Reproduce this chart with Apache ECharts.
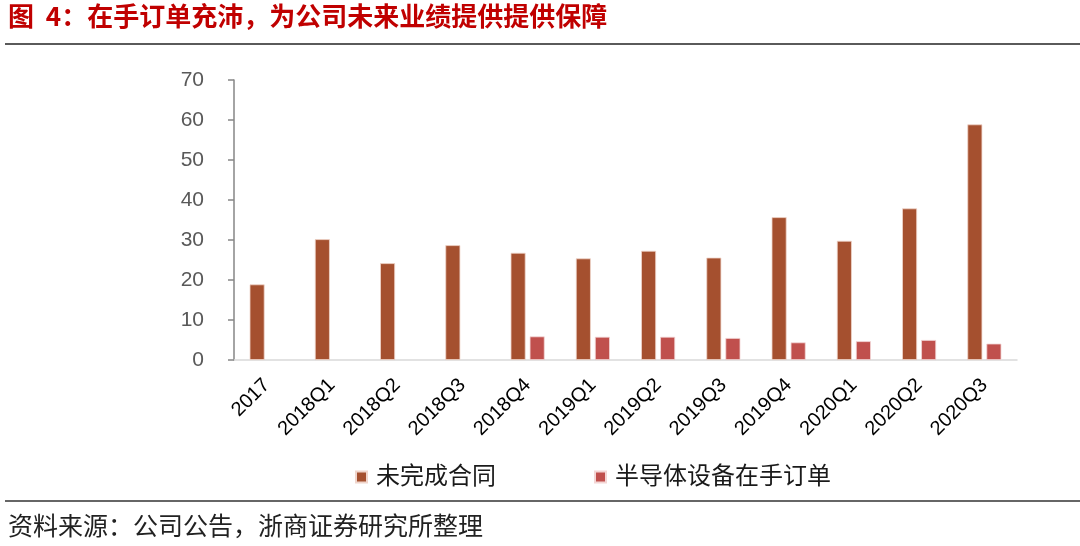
<!DOCTYPE html>
<html>
<head>
<meta charset="utf-8">
<script src="https://cdn.jsdelivr.net/npm/echarts@6/dist/echarts.min.js"></script>
<style>
html,body{margin:0;padding:0;background:#fff;}
#main{width:1080px;height:546px;}
</style>
</head>
<body>
<div id="main"></div>
<script>
var categories = ['2017','2018Q1','2018Q2','2018Q3','2018Q4','2019Q1','2019Q2','2019Q3','2019Q4','2020Q1','2020Q2','2020Q3'];
var contractValues = [18.9, 30.2, 24.2, 28.7, 26.8, 25.4, 27.3, 25.6, 35.7, 29.8, 37.9, 58.9];
var semiOrderValues = [null, null, null, null, 5.9, 5.8, 5.8, 5.5, 4.4, 4.7, 5.0, 4.1];
var seriesNames = ['未完成合同', '半导体设备在手订单'];
var yTicks = [0, 10, 20, 30, 40, 50, 60, 70];
var titleText = '图  4：在手订单充沛，为公司未来业绩提供提供保障';
var sourceText = '资料来源：公司公告，浙商证券研究所整理';

var chart = echarts.init(document.getElementById('main'), null, {renderer: 'canvas'});
var cjk = '"Liberation Sans", "Noto Sans CJK SC", sans-serif';
chart.setOption({
  animation: false,
  backgroundColor: '#ffffff',
  grid: {left: 234, right: 63, top: 80, bottom: 186, containLabel: false},
  legend: {
    data: seriesNames,
    left: 350,
    top: 460,
    icon: 'rect',
    itemWidth: 11,
    itemHeight: 11,
    itemGap: 98,
    textStyle: {fontSize: 24, color: '#1a1a1a', fontFamily: cjk, padding: [0, 0, 0, 4]}
  },
  xAxis: {
    type: 'category',
    data: categories,
    axisLine: {show: true, lineStyle: {color: '#d9d9d9', width: 1.5}},
    axisTick: {show: false},
    axisLabel: {rotate: 45, margin: 22, fontSize: 20, color: '#000', fontFamily: cjk, interval: 0}
  },
  yAxis: {
    type: 'value',
    min: yTicks[0],
    max: yTicks[yTicks.length - 1],
    interval: 10,
    splitLine: {show: false},
    axisLine: {show: true, lineStyle: {color: '#868686', width: 1.5}},
    axisTick: {show: true, inside: false, length: 6, lineStyle: {color: '#868686', width: 1.5}},
    axisLabel: {margin: 30, fontSize: 21, color: '#595959', fontFamily: cjk}
  },
  series: [
    {
      name: seriesNames[0],
      type: 'bar',
      data: contractValues,
      barWidth: 15,
      barGap: '27%',
      itemStyle: {color: '#A5502F', borderColor: '#f0d5cc', borderWidth: 0.8}
    },
    {
      name: seriesNames[1],
      type: 'bar',
      data: semiOrderValues,
      barWidth: 15,
      barGap: '27%',
      itemStyle: {color: '#C0504D', borderColor: '#f3d6d5', borderWidth: 0.8}
    }
  ],
  graphic: [
    {type: 'text', left: 8, top: 3, style: {text: titleText, fontSize: 26, fontWeight: 'bold', fill: '#C00000', fontFamily: '"Noto Sans CJK SC", sans-serif'}},
    {type: 'line', shape: {x1: 5, y1: 44, x2: 1080, y2: 44}, style: {stroke: '#5a5a5a', lineWidth: 2}},
    {type: 'line', shape: {x1: 5, y1: 501, x2: 1080, y2: 501}, style: {stroke: '#333333', lineWidth: 1.5}},
    {type: 'text', left: 8, top: 513, style: {text: sourceText, fontSize: 25, fill: '#222', fontFamily: '"Noto Sans CJK SC", serif'}}
  ]
});
</script>
</body>
</html>
